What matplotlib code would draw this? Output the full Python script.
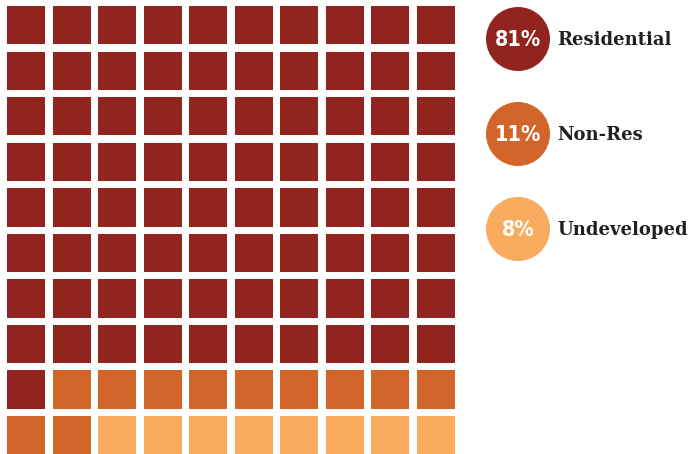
import matplotlib
matplotlib.use("Agg")
import matplotlib.pyplot as plt
from matplotlib.patches import Rectangle, Circle

categories = ["Residential", "Non-Res", "Undeveloped"]
values = [81, 11, 8]
colors = ["#922420", "#D2662A", "#F9AB5E"]
labels = ["81%", "11%", "8%"]

n_rows, n_cols = 10, 10

fig = plt.figure(figsize=(6.96, 4.54), dpi=100)
ax = fig.add_axes([0, 0, 1, 1])
ax.set_xlim(0, 696)
ax.set_ylim(454, 0)
ax.axis("off")

# waffle cells, filled row by row from top-left
cell_colors = []
for v, c in zip(values, colors):
    cell_colors += [c] * v

pitch_x, pitch_y = 45.5, 45.55
size = 38.3
x0, y0 = 7, 6
for i, c in enumerate(cell_colors):
    r, col = divmod(i, n_cols)
    ax.add_patch(Rectangle((x0 + col * pitch_x, y0 + r * pitch_y), size, size,
                           facecolor=c, edgecolor="none"))

# legend circles
cx, r = 518, 32
cys = [39, 134, 229]
for cy, c, lab, cat in zip(cys, colors, labels, categories):
    ax.add_patch(Circle((cx, cy), r, facecolor=c, edgecolor="none"))
    ax.text(cx, cy + 1, lab, color="white", fontsize=15.5, fontweight="bold",
            ha="center", va="center", family="DejaVu Sans", fontstretch="condensed")
    ax.text(557, cy + 1, cat, color="#231F20", fontsize=13, fontweight="bold",
            ha="left", va="center", family="DejaVu Serif")

fig.savefig("out.png", dpi=100)
